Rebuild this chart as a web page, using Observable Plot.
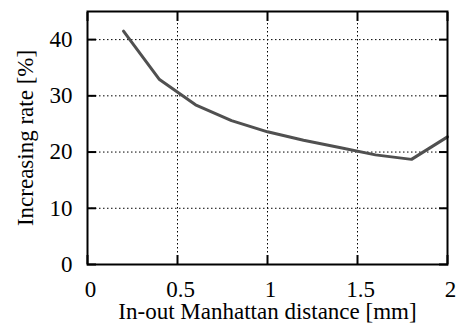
<!DOCTYPE html>
<html>
<head>
<meta charset="utf-8">
<script src="https://cdn.jsdelivr.net/npm/d3@7"></script>
<script src="https://cdn.jsdelivr.net/npm/@observablehq/plot@0.6"></script>
<style>
  html, body { margin: 0; padding: 0; background: #fff; }
</style>
</head>
<body>
<div id="chart"></div>
<script>
// In-out Manhattan distance [mm] and the corresponding increasing rate [%]
const distance = [0.2, 0.4, 0.6, 0.8, 1.0, 1.2, 1.4, 1.6, 1.8, 2.0];
const rate = [41.5, 32.9, 28.4, 25.6, 23.6, 22.1, 20.8, 19.5, 18.7, 22.7];
const xTicks = [0, 0.5, 1, 1.5, 2];
const yTicks = [0, 10, 20, 30, 40];

const data = distance.map((d, i) => ({distance: d, rate: rate[i]}));

const font = "Liberation Serif";
const size = 23;
const grid = {stroke: "black", strokeOpacity: 1, strokeWidth: 1, strokeDasharray: "1.5,2.5"};

const chart = Plot.plot({
  width: 458,
  height: 326,
  marginLeft: 87,
  marginRight: 11,
  marginTop: 11,
  marginBottom: 62,
  style: {fontFamily: font, fontSize: `${size}px`, color: "black", background: "white"},
  x: {domain: [0, 2]},
  y: {domain: [0, 45]},
  marks: [
    Plot.gridX(xTicks.slice(1, -1), grid),
    Plot.gridY(yTicks.slice(1), grid),
    // tick labels and axis titles
    Plot.axisX(xTicks, {tickSize: 0, tickPadding: 16.5, dx: 3, tickFormat: d => String(d), fontSize: size,
      label: "In-out Manhattan distance [mm]", labelAnchor: "center", labelArrow: "none", labelOffset: 54}),
    Plot.axisY(yTicks, {tickSize: 0, tickPadding: 15, fontSize: size,
      label: "Increasing rate [%]", labelAnchor: "center", labelArrow: "none", labelOffset: 71}),
    // inward tick marks on all four sides
    Plot.axisX(xTicks, {anchor: "bottom", tickSize: -9, text: null, label: null, strokeWidth: 2}),
    Plot.axisX(xTicks, {anchor: "top", tickSize: -9, text: null, label: null, strokeWidth: 2}),
    Plot.axisY(yTicks, {anchor: "left", tickSize: -9, text: null, label: null, strokeWidth: 2}),
    Plot.axisY(yTicks, {anchor: "right", tickSize: -9, text: null, label: null, strokeWidth: 2}),
    Plot.line(data, {x: "distance", y: "rate", stroke: "#505050", strokeWidth: 3, strokeLinejoin: "miter"}),
    Plot.frame({stroke: "black", strokeWidth: 2})
  ]
});

document.getElementById("chart").appendChild(chart);
</script>
</body>
</html>
